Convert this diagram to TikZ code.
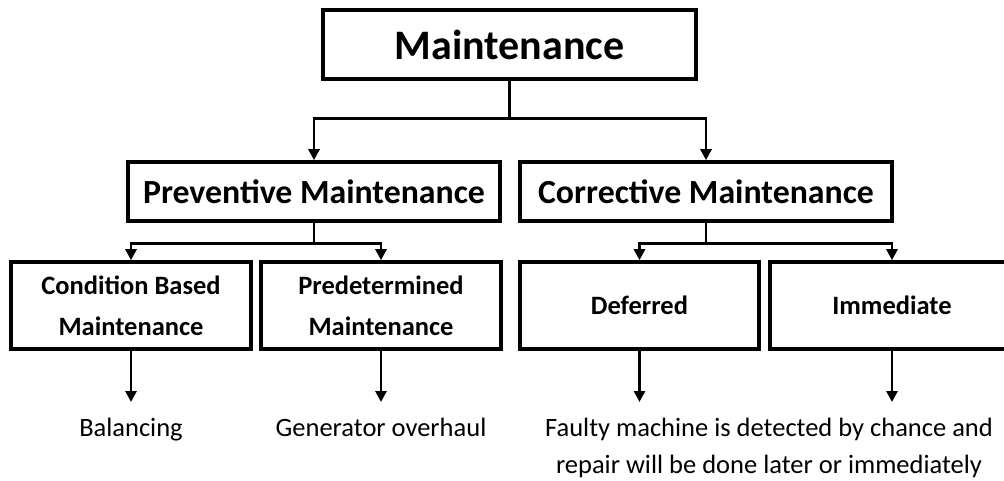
\documentclass[tikz,border=0pt]{standalone}
\usepackage{fontspec}
\setmainfont{Carlito}
\usetikzlibrary{arrows.meta}
\begin{document}
\begin{tikzpicture}[x=1pt,y=-1pt,
  box/.style={draw=black, line width=3.6pt, rectangle, inner sep=0pt,
    align=center, font=\bfseries},
  topbox/.style={box, minimum width=373pt, minimum height=69pt,
    font=\bfseries\fontsize{42}{50}\selectfont},
  midbox/.style={box, minimum width=372pt, minimum height=59pt,
    font=\bfseries\fontsize{33.8}{40}\selectfont},
  lowbox/.style={box, minimum height=87pt,
    font=\bfseries\fontsize{26.5}{41}\selectfont},
  link/.style={draw=black, line width=2.8pt,
    -{Triangle[width=11pt,length=11pt]}},
  leaf/.style={inner xsep=0pt, inner ysep=16pt, anchor=north, align=center,
    font=\fontsize{26.5}{37}\selectfont}
]
\fill[white] (0,0) rectangle (1004,480);
\useasboundingbox (0,0) rectangle (1004,480);
\clip (0,0) rectangle (1004,480);

% main categories
\node[topbox] (top) at (509.5,44.5) {Maintenance};
\node[midbox] (prev) at (314,191.5) {Preventive Maintenance};
\node[midbox] (corr) at (706,191.5) {Corrective Maintenance};

% sub-types
\node[lowbox, minimum width=240pt] (cbm) at (131,305.5) {Condition Based\\Maintenance};
\node[lowbox, minimum width=240pt] (pdm) at (381,305.5) {Predetermined\\Maintenance};
\node[lowbox, minimum width=239pt] (def) at (639.5,305.5) {Deferred};
\node[lowbox, minimum width=244pt] (imm) at (892,305.5) {Immediate};

% examples
\node[leaf] (bal) at (131,402) {Balancing};
\node[leaf] (gen) at (381,402) {Generator overhaul};
\node[leaf] (faulty) at (769,402) {Faulty machine is detected by chance and\\repair will be done later or immediately};

% tree connectors
\draw[link] (top.south) -- ++(0,38) -| (prev.north);
\draw[link] (top.south) -- ++(0,38) -| (corr.north);
\draw[link] (prev.south) -- ++(0,21) -| (cbm.north);
\draw[link] (prev.south) -- ++(0,21) -| (pdm.north);
\draw[link] (corr.south) -- ++(0,21) -| (def.north);
\draw[link] (corr.south) -- ++(0,21) -| (imm.north);

% example arrows
\draw[link] (cbm.south) -- (cbm.south |- bal.north);
\draw[link] (pdm.south) -- (pdm.south |- gen.north);
\draw[link] (def.south) -- (def.south |- faulty.north);
\draw[link] (imm.south) -- (imm.south |- faulty.north);
\end{tikzpicture}
\end{document}
